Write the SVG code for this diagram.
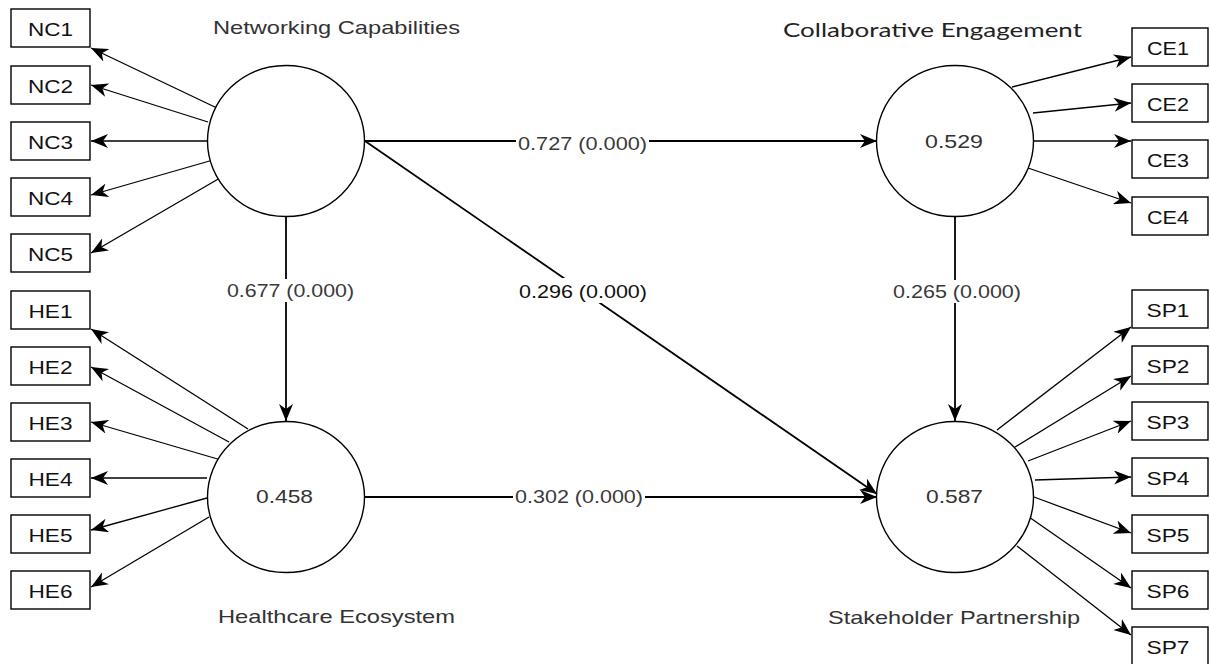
<svg xmlns="http://www.w3.org/2000/svg" width="1210" height="664" viewBox="0 0 1210 664">
<defs>
<marker id="ah" markerUnits="userSpaceOnUse" markerWidth="18" markerHeight="14" refX="17" refY="7" orient="auto">
<path d="M0,0 L17,7 L0,14 L5,7 z" fill="#000"/>
</marker>
<style>
.box{fill:#fff;stroke:#000;stroke-width:1.4}
.lv{fill:#fff;stroke:#000;stroke-width:1.4}
.ind{stroke:#000;stroke-width:1.3;fill:none;marker-end:url(#ah)}
.str{stroke:#000;stroke-width:1.8;fill:none;marker-end:url(#ah)}
.bt{font-family:"Liberation Sans",Arial,sans-serif;font-size:18px;fill:#111;text-anchor:middle}
.nl{font-family:"Liberation Sans",Arial,sans-serif;font-size:19px;fill:#333}
.pl{font-family:"Liberation Sans",Arial,sans-serif;font-size:19px;fill:#3a3a3a}
.bg{fill:#fff}
</style>
</defs>
<rect width="1210" height="664" fill="#fff"/>
<g id="connectors">
<line class="ind" x1="219" y1="109" x2="91" y2="48"/>
<line class="ind" x1="208" y1="122" x2="91" y2="85"/>
<line class="ind" x1="207" y1="141" x2="91" y2="141"/>
<line class="ind" x1="213" y1="160" x2="91" y2="195"/>
<line class="ind" x1="220" y1="178" x2="91" y2="253"/>
<line class="ind" x1="248" y1="429" x2="91" y2="329"/>
<line class="ind" x1="229" y1="442" x2="91" y2="367"/>
<line class="ind" x1="221" y1="460" x2="91" y2="422"/>
<line class="ind" x1="207" y1="478" x2="91" y2="478"/>
<line class="ind" x1="207" y1="498" x2="91" y2="530"/>
<line class="ind" x1="209" y1="517" x2="91" y2="587"/>
<line class="ind" x1="1012" y1="87" x2="1131" y2="57"/>
<line class="ind" x1="1033" y1="113" x2="1131" y2="103"/>
<line class="ind" x1="1034" y1="141" x2="1131" y2="141"/>
<line class="ind" x1="1028" y1="168" x2="1131" y2="203"/>
<line class="ind" x1="997" y1="430" x2="1131" y2="327"/>
<line class="ind" x1="1015" y1="447" x2="1131" y2="376"/>
<line class="ind" x1="1028" y1="461" x2="1131" y2="421"/>
<line class="ind" x1="1035" y1="480" x2="1131" y2="477"/>
<line class="ind" x1="1034" y1="497" x2="1131" y2="533"/>
<line class="ind" x1="1029" y1="517" x2="1131" y2="588"/>
<line class="ind" x1="1017" y1="546" x2="1131" y2="635"/>
<line class="str" x1="365" y1="141" x2="877" y2="141"/>
<line class="str" x1="286" y1="217" x2="286" y2="421"/>
<line class="str" x1="365" y1="141" x2="877" y2="494"/>
<line class="str" x1="955" y1="217" x2="955" y2="421"/>
<line class="str" x1="365" y1="497" x2="877" y2="497"/>
<rect class="bg" x="516" y="132" width="133" height="20"/>
<rect class="bg" x="225" y="279" width="131" height="23"/>
<rect class="bg" x="891" y="280" width="132" height="23"/>
<rect class="bg" x="517" y="278" width="132" height="25"/>
<rect class="bg" x="513" y="486" width="132" height="20"/>
<text class="pl" x="518" y="150" textLength="129" lengthAdjust="spacingAndGlyphs">0.727 (0.000)</text>
<text class="pl" x="227" y="297" textLength="127" lengthAdjust="spacingAndGlyphs">0.677 (0.000)</text>
<text class="pl" x="893" y="298" textLength="128" lengthAdjust="spacingAndGlyphs">0.265 (0.000)</text>
<text class="pl" x="519" y="298" textLength="128" lengthAdjust="spacingAndGlyphs" style="fill:#111">0.296 (0.000)</text>
<text class="pl" x="515" y="503" textLength="128" lengthAdjust="spacingAndGlyphs">0.302 (0.000)</text>
</g>
<g id="NC">
<ellipse class="lv" cx="286" cy="141" rx="78.5" ry="75.5"/>
<text class="nl" x="213" y="34" textLength="247" lengthAdjust="spacingAndGlyphs">Networking Capabilities</text>
</g>
<g id="HE">
<ellipse class="lv" cx="286" cy="497" rx="78.5" ry="75.5"/>
<text class="nl" x="256" y="503" textLength="57" lengthAdjust="spacingAndGlyphs">0.458</text>
<text class="nl" x="218" y="623" textLength="237" lengthAdjust="spacingAndGlyphs">Healthcare Ecosystem</text>
</g>
<g id="CE">
<ellipse class="lv" cx="955" cy="141" rx="78.5" ry="75.5"/>
<text class="nl" x="925" y="148" textLength="58" lengthAdjust="spacingAndGlyphs">0.529</text>
<text x="783" y="37" textLength="299" lengthAdjust="spacingAndGlyphs" style="font-family:Lato,'Open Sans',sans-serif;font-size:20px;fill:#222">Collaborative Engagement</text>
</g>
<g id="SP">
<ellipse class="lv" cx="955" cy="497" rx="78.5" ry="75.5"/>
<text class="nl" x="926" y="503" textLength="57" lengthAdjust="spacingAndGlyphs">0.587</text>
<text class="nl" x="828" y="624" textLength="252" lengthAdjust="spacingAndGlyphs">Stakeholder Partnership</text>
</g>
<g id="NC1"><rect class="box" x="11" y="9" width="79" height="38"/><text class="bt" x="50.5" y="36" textLength="45" lengthAdjust="spacingAndGlyphs">NC1</text></g>
<g id="NC2"><rect class="box" x="11" y="66" width="79" height="38"/><text class="bt" x="50.5" y="93" textLength="45" lengthAdjust="spacingAndGlyphs">NC2</text></g>
<g id="NC3"><rect class="box" x="11" y="122" width="79" height="38"/><text class="bt" x="50.5" y="149" textLength="45" lengthAdjust="spacingAndGlyphs">NC3</text></g>
<g id="NC4"><rect class="box" x="11" y="178" width="79" height="38"/><text class="bt" x="50.5" y="205" textLength="45" lengthAdjust="spacingAndGlyphs">NC4</text></g>
<g id="NC5"><rect class="box" x="11" y="234" width="79" height="38"/><text class="bt" x="50.5" y="261" textLength="45" lengthAdjust="spacingAndGlyphs">NC5</text></g>
<g id="HE1"><rect class="box" x="11" y="291" width="79" height="38"/><text class="bt" x="50.5" y="318" textLength="44" lengthAdjust="spacingAndGlyphs">HE1</text></g>
<g id="HE2"><rect class="box" x="11" y="347" width="79" height="38"/><text class="bt" x="50.5" y="374" textLength="44" lengthAdjust="spacingAndGlyphs">HE2</text></g>
<g id="HE3"><rect class="box" x="11" y="403" width="79" height="38"/><text class="bt" x="50.5" y="430" textLength="44" lengthAdjust="spacingAndGlyphs">HE3</text></g>
<g id="HE4"><rect class="box" x="11" y="459" width="79" height="38"/><text class="bt" x="50.5" y="486" textLength="44" lengthAdjust="spacingAndGlyphs">HE4</text></g>
<g id="HE5"><rect class="box" x="11" y="515" width="79" height="38"/><text class="bt" x="50.5" y="542" textLength="44" lengthAdjust="spacingAndGlyphs">HE5</text></g>
<g id="HE6"><rect class="box" x="11" y="571" width="79" height="38"/><text class="bt" x="50.5" y="598" textLength="44" lengthAdjust="spacingAndGlyphs">HE6</text></g>
<g id="CE1"><rect class="box" x="1132" y="28" width="76" height="38"/><text class="bt" x="1168" y="55" textLength="42" lengthAdjust="spacingAndGlyphs">CE1</text></g>
<g id="CE2"><rect class="box" x="1132" y="84" width="76" height="38"/><text class="bt" x="1168" y="111" textLength="42" lengthAdjust="spacingAndGlyphs">CE2</text></g>
<g id="CE3"><rect class="box" x="1132" y="140" width="76" height="38"/><text class="bt" x="1168" y="167" textLength="42" lengthAdjust="spacingAndGlyphs">CE3</text></g>
<g id="CE4"><rect class="box" x="1132" y="197" width="76" height="38"/><text class="bt" x="1168" y="224" textLength="42" lengthAdjust="spacingAndGlyphs">CE4</text></g>
<g id="SP1"><rect class="box" x="1132" y="290" width="76" height="38"/><text class="bt" x="1168" y="317" textLength="43" lengthAdjust="spacingAndGlyphs">SP1</text></g>
<g id="SP2"><rect class="box" x="1132" y="346" width="76" height="38"/><text class="bt" x="1168" y="373" textLength="43" lengthAdjust="spacingAndGlyphs">SP2</text></g>
<g id="SP3"><rect class="box" x="1132" y="402" width="76" height="38"/><text class="bt" x="1168" y="429" textLength="43" lengthAdjust="spacingAndGlyphs">SP3</text></g>
<g id="SP4"><rect class="box" x="1132" y="458" width="76" height="38"/><text class="bt" x="1168" y="485" textLength="43" lengthAdjust="spacingAndGlyphs">SP4</text></g>
<g id="SP5"><rect class="box" x="1132" y="515" width="76" height="38"/><text class="bt" x="1168" y="542" textLength="43" lengthAdjust="spacingAndGlyphs">SP5</text></g>
<g id="SP6"><rect class="box" x="1132" y="571" width="76" height="38"/><text class="bt" x="1168" y="598" textLength="43" lengthAdjust="spacingAndGlyphs">SP6</text></g>
<g id="SP7"><rect class="box" x="1132" y="627" width="76" height="38"/><text class="bt" x="1168" y="654" textLength="43" lengthAdjust="spacingAndGlyphs">SP7</text></g>
</svg>
